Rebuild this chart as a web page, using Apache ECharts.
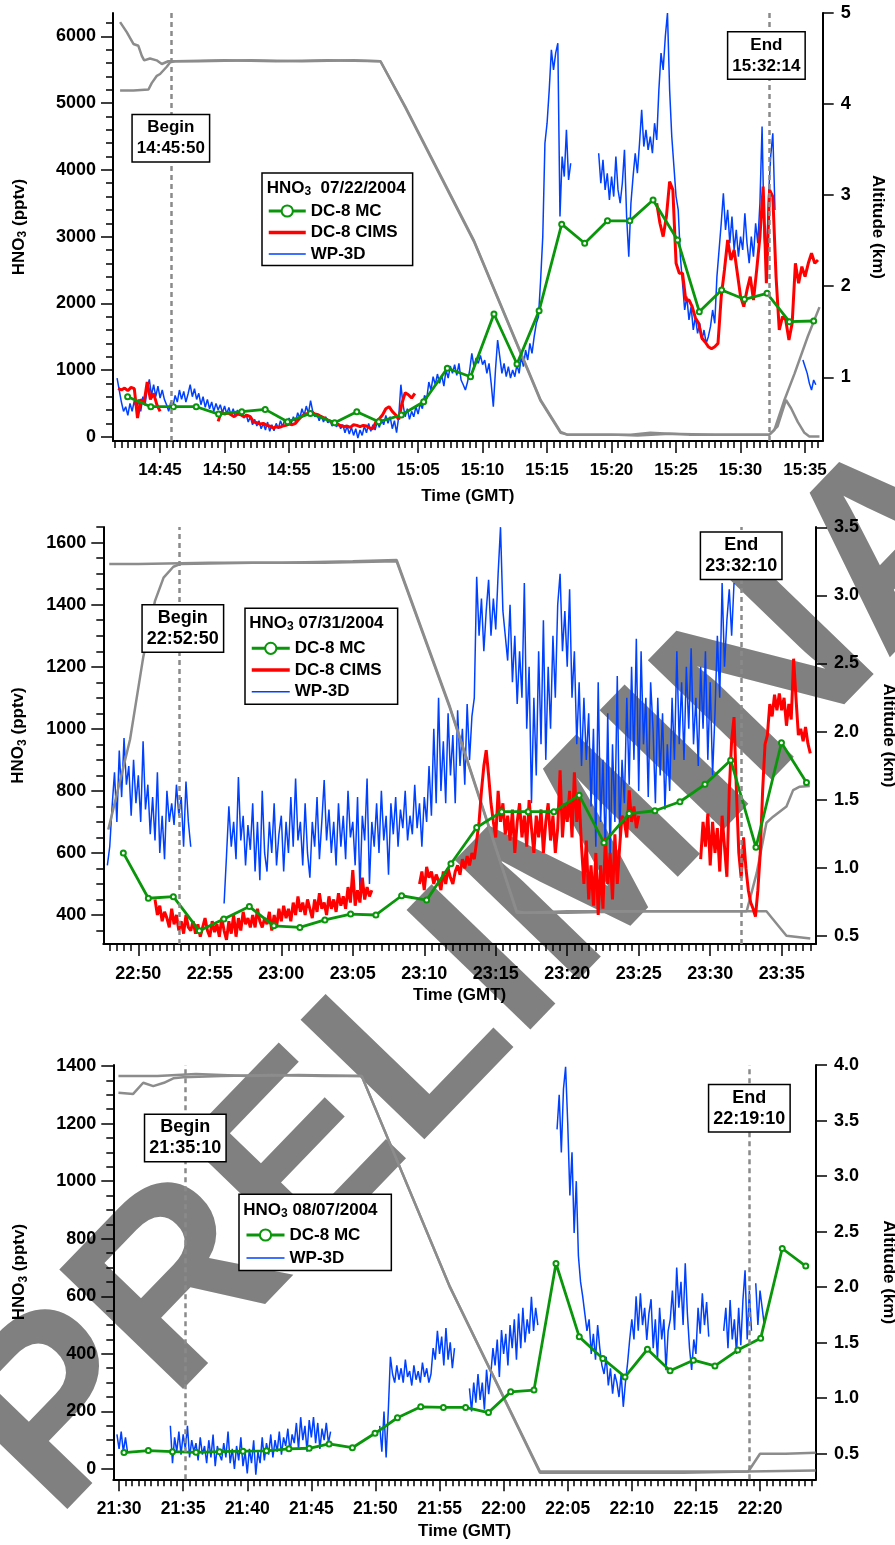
<!DOCTYPE html>
<html>
<head>
<meta charset="utf-8">
<script src="https://cdn.jsdelivr.net/npm/echarts@6/dist/echarts.min.js"></script>
<style>
  html, body { margin: 0; padding: 0; background: #fff; }
  #chart { width: 895px; height: 1545px; }
</style>
</head>
<body>
<div id="chart"></div>
<script>
const _ = null;

// ---------- Flight 1: 07/22/2004 ----------
const p1TimeTicks = ['14:45','14:50','14:55','15:00','15:05','15:10','15:15','15:20','15:25','15:30','15:35'];
const p1HnoTicks = [0, 1000, 2000, 3000, 4000, 5000, 6000];
const p1AltTicks = [1, 2, 3, 4, 5];
const p1Begin = '14:45:50', p1End = '15:32:14';
// WP-3D, 10 s samples from 14:41:00
const p1Wp3d = [
  _,_,_,_,880,700,
  520,380,450,320,500,380,
  540,420,560,380,600,470,
  720,860,620,780,600,760,
  580,700,560,480,380,520,
  450,620,520,700,560,680,
  520,640,780,600,720,560,
  650,480,600,440,560,420,
  520,380,500,400,480,360,
  460,340,440,320,420,300,
  400,320,380,280,340,220,
  300,180,260,160,240,120,
  200,100,220,80,180,90,
  200,120,240,150,260,170,
  280,200,300,220,360,280,
  420,320,460,350,540,380,
  300,340,240,320,220,300,
  210,240,160,220,150,200,
  120,180,60,160,40,140,
  20,120,-20,100,20,160,
  60,200,80,180,100,220,
  140,260,180,320,200,300,
  120,240,60,300,780,480,
  300,420,260,380,300,450,
  340,500,420,620,560,820,
  700,900,780,940,800,920,
  760,1000,880,1060,950,1080,
  920,1100,850,780,700,820,
  1000,1250,1050,1180,1100,1220,
  1080,1150,950,1100,800,450,
  1000,1450,1200,950,1100,900,
  1050,880,1000,900,1080,950,
  1200,1050,1300,1150,1400,1250,
  1500,1700,1800,2350,3000,4400,
  4700,5200,5800,5500,5750,5900,
  3300,4200,3900,4600,3850,4100,
  _,_,_,_,_,_,
  _,_,_,_,_,_,
  4250,3800,4150,3700,3950,3550,
  3900,3600,4200,3700,3500,3800,
  4300,3300,2700,3500,3900,4250,
  3950,4400,4900,4350,4600,4300,
  4500,4250,4700,4450,5200,5750,
  5500,6000,6350,5200,4500,4050,
  3600,3400,2700,2300,1900,2100,
  1750,1950,1600,1800,1550,1700,
  1450,1600,1400,1500,1650,1900,
  1700,2400,2800,3200,3650,3100,
  3400,2900,3300,2800,3100,2700,
  3000,2800,3350,2900,2600,3000,
  2700,3200,2900,3500,4650,3000,
  2500,3600,4200,4550,3400,_,
  _,_,_,_,_,_,
  _,_,_,_,_,1150,
  1050,950,800,700,850,780
];
// DC-8 CIMS, 15 s samples, three stretches
const p1CimsA = [725, 700,730,690,740, 720,280,560,500, 820,560,650,480, 380];           // from 14:41:45
const p1CimsB = [230,375, 340,360,330,300, 340,330,300,320, 300,220,210,190, 200,170,160,130,
  150,140,160,170, 190,180,200,260, 310,340,350,370, 340,330,300,280, 250,230,200,180,
  170,150,160,140, 180,170,150,170, 160,130,120,230, 270,330,420,450, 380,330,260,500,
  660,630,580,650];                                                                         // from 14:49:30
const p1CimsC = [3500,3200, 3000,3300,3825,3700, 2600,2450,2450,2050, 2050,1950,1780,1700,
  1480,1420,1350,1320, 1350,1400,2100,2500, 2950,2650,2800,2450, 2100,1950,2200,2400,
  2050,2500,3000,3750, 2300,3700,3600,2400, 1600,1800,1750,1450, 1700,2600,2300,2550,
  2400,2600,2750,2600, 2650];                                                               // from 15:23:30
// DC-8 mist chamber
const p1Mc = [['14:42:29',600],['14:44:17',450],['14:46:02',450],['14:47:48',450],['14:49:32',340],
  ['14:51:20',375],['14:53:09',410],['14:54:53',225],['14:56:39',350],['14:58:32',210],['15:00:15',375],
  ['15:01:57',225],['15:03:42',325],['15:05:26',525],['15:07:16',1026],['15:09:04',900],['15:10:53',1840],
  ['15:12:40',1090],['15:14:23',1890],['15:16:08',3186],['15:17:55',2900],['15:19:41',3236],['15:21:25',3236],
  ['15:23:13',3550],['15:25:07',2950],['15:26:48',1875],['15:28:32',2200],['15:30:18',2060],['15:32:03',2150],
  ['15:33:47',1725],['15:35:40',1735]];
// altitudes (km)
const p1AltDc8 = [['14:41:54',4.90],['14:42:25',4.79],['14:42:56',4.66],['14:43:19',4.64],['14:43:35',4.53],
  ['14:43:46',4.48],['14:44:13',4.50],['14:44:44',4.48],['14:45:08',4.44],['14:45:38',4.47],['14:48:00',4.47],
  ['14:52:00',4.48],['14:56:00',4.47],['15:00:00',4.48],['15:02:05',4.47],['15:04:01',3.97],['15:09:20',2.50],
  ['15:14:30',0.75],['15:16:03',0.40],['15:16:34',0.37],['15:20:00',0.37],['15:22:00',0.36],['15:24:30',0.38],
  ['15:28:00',0.37],['15:32:14',0.37],['15:32:37',0.42],['15:33:24',0.75],['15:34:11',1.04],['15:35:13',1.45],
  ['15:36:07',1.77]];
const p1AltP3 = [['14:41:54',4.15],['14:42:56',4.15],['14:44:06',4.16],['14:44:21',4.23],['14:44:45',4.31],
  ['14:45:00',4.33],['14:45:31',4.41],['14:45:47',4.46],['14:46:10',4.47],['14:50:00',4.48],['14:54:00',4.47],
  ['14:58:00',4.48],['15:02:05',4.47],['15:04:01',3.96],['15:09:20',2.49],['15:14:30',0.74],['15:16:03',0.39],
  ['15:16:34',0.37],['15:19:00',0.37],['15:21:30',0.37],['15:23:00',0.39],['15:26:00',0.37],['15:30:00',0.37],
  ['15:32:14',0.37],['15:32:52',0.46],['15:33:31',0.75],['15:33:55',0.66],['15:34:26',0.51],['15:34:57',0.39],
  ['15:35:20',0.35],['15:36:07',0.35]];

// ---------- Flight 2: 07/31/2004 ----------
const p2TimeTicks = ['22:50','22:55','23:00','23:05','23:10','23:15','23:20','23:25','23:30','23:35'];
const p2HnoTicks = [400, 600, 800, 1000, 1200, 1400, 1600];
const p2AltTicks = [0.5, 1.0, 1.5, 2.0, 2.5, 3.0, 3.5];
const p2Begin = '22:52:50', p2End = '23:32:10';
// WP-3D, 10 s samples from 22:47:00
const p2Wp3d = [
  _,_,_,_,_,560,
  620,750,860,700,930,780,
  970,820,880,720,900,760,
  850,700,960,740,820,660,
  780,640,860,600,720,580,
  800,700,760,690,820,720,
  780,620,830,700,620,_,
  _,_,_,_,_,_,
  _,_,_,_,_,_,
  437,590,750,620,700,580,
  845,640,720,560,690,610,
  760,540,700,512,800,600,
  540,700,600,760,560,660,
  720,540,700,600,780,620,
  840,640,700,560,760,600,
  520,700,620,780,580,700,
  835,640,740,600,700,560,
  760,620,720,580,800,650,
  700,560,780,480,720,640,
  840,500,700,620,760,600,
  800,640,720,530,760,660,
  780,620,740,680,800,640,
  720,660,820,680,760,620,
  780,700,880,720,1000,760,
  1100,800,960,760,1050,850,
  980,760,1060,880,1000,820,
  1080,900,1040,1100,1490,1300,
  1420,1250,1380,1480,1300,1420,
  1320,1500,1650,1380,1300,1220,
  1400,1150,1300,1080,1250,1100,
  1470,1000,1200,760,1100,850,
  1250,950,1350,900,1200,1000,
  1300,1100,1400,1500,1250,1380,
  1200,1450,1100,1250,950,1150,
  880,1100,900,1050,750,1000,
  620,1150,700,900,600,1050,
  580,950,700,1170,650,900,
  760,1100,820,1200,900,1290,
  800,1250,950,1100,780,1150,
  1000,760,1100,850,1050,740,
  950,800,1100,900,1250,950,
  1150,900,1200,1000,1260,950,
  1100,880,1200,1000,1250,900,
  1150,850,1050,1300,1100,1470,
  1200,1350,1450,1300,1470
];
// DC-8 CIMS, 10 s samples, three stretches
const p2CimsA = [450,400,430,380,410,
  390,360,420,370,400,350, 380,340,400,360,350,380, 340,370,330,360,390,350,
  330,380,345,370,330,390, 350,320,380,340,400,330, 390,350,410,370,390,360,
  400,360,420,380,360,390, 370,410,350,400,360,420, 380,430,390,420,380,440,
  400,460,410,440,400,450, 420,390,450,410,470,420, 440,400,460,420,450,410,
  470,430,460,420,490,440, 545,430,480,440,520,450, 490,460,480];                    // from 22:51:10
const p2CimsB = [500,540,
  480,555,520,540,500,530, 510,480,540,500,550,520, 500,540,560,530,580,550,
  590,560,600,580,640,700, 800,880,931,850,760,700, 650,800,700,760,660,720,
  640,740,600,700,760,650, 720,620,770,680,600,720, 650,740,600,700,760,640,
  720,600,680,866,650,760, 700,800,650,860,700,780, 620,500,640,450,560,430,
  600,400,560,420,650,500, 600,450,660,500,620,720, 700,650,802,700,750,680,
  720];                                                                                // from 23:09:40
const p2CimsC = [580,700,620,727,
  560,700,600,680,540,720, 620,523,800,963,1038,800, 600,520,650,550,480,440,
  420,395,480,600,800,950, 980,1080,1040,1110,1060,1114, 1060,1100,1010,1080,1030,1226,
  1100,980,1000,960,1006,953, 921];                                                    // from 23:29:20
const p2Mc = [['22:48:57',600],['22:50:42',454],['22:52:27',459],['22:54:16',349],['22:55:59',387],
  ['22:57:46',427],['22:59:29',365],['23:01:18',360],['23:03:03',384],['23:04:51',403],['23:06:37',400],
  ['23:08:25',462],['23:10:10',448],['23:11:52',565],['23:13:40',682],['23:15:25',733],['23:17:16',733],
  ['23:19:04',733],['23:20:50',786],['23:22:34',633],['23:24:20',727],['23:26:08',736],['23:27:53',765],
  ['23:29:38',821],['23:31:26',899],['23:33:12',618],['23:34:59',955],['23:36:44',827]];
const p2AltDc8 = [['22:47:58',3.23],['22:50:00',3.23],['22:55:00',3.24],['23:00:00',3.24],['23:05:00',3.25],
  ['23:08:04',3.26],['23:11:48',2.18],['23:16:28',0.68],['23:17:00',0.67],['23:20:00',0.68],['23:25:00',0.68],
  ['23:30:00',0.68],['23:33:56',0.68],['23:35:20',0.50],['23:37:00',0.48]];
const p2AltP3 = [['22:47:54',1.28],['22:49:25',1.94],['22:50:21',2.55],['22:51:10',2.96],['22:51:46',3.13],
  ['22:52:27',3.21],['22:52:55',3.23],['22:58:00',3.24],['23:03:00',3.24],['23:08:04',3.25],['23:11:48',2.17],
  ['23:16:28',0.67],['23:20:00',0.67],['23:25:00',0.68],['23:30:00',0.68],['23:32:33',0.68],['23:33:15',0.96],
  ['23:33:56',1.33],['23:34:24',1.375],['23:35:20',1.45],['23:35:48',1.57],['23:36:16',1.595],['23:36:58',1.60]];

// ---------- Flight 3: 08/07/2004 ----------
const p3TimeTicks = ['21:30','21:35','21:40','21:45','21:50','21:55','22:00','22:05','22:10','22:15','22:20'];
const p3HnoTicks = [0, 200, 400, 600, 800, 1000, 1200, 1400];
const p3AltTicks = [0.5, 1.0, 1.5, 2.0, 2.5, 3.0, 3.5, 4.0];
const p3Begin = '21:35:10', p3End = '22:19:10';
// WP-3D, 10 s samples from 21:29:00
const p3Wp3d = [
  _,_,_,_,_,120,
  70,130,60,110,55,_,
  _,_,_,_,_,_,
  _,_,_,_,_,_,
  _,_,_,_,_,_,
  150,20,110,60,130,50,
  120,70,150,40,100,60,
  90,30,110,50,80,20,
  100,40,120,10,80,50,
  30,90,40,130,20,70,
  0,80,30,110,10,60,
  -15,70,20,100,-20,60,
  20,110,30,90,50,120,
  40,100,60,130,50,110,
  80,140,60,120,90,160,
  70,180,100,150,60,170,
  110,180,90,160,70,140,
  100,160,90,130,_,_,
  _,_,_,_,_,_,
  _,_,_,_,_,_,
  _,_,_,_,_,_,
  _,_,150,60,200,40,
  200,390,330,300,360,310,
  350,300,380,320,340,290,
  360,310,340,300,370,320,
  350,300,330,420,380,480,
  400,460,360,490,380,440,
  350,420,_,_,_,_,
  _,_,280,200,300,230,
  330,240,300,206,345,260,
  330,420,360,450,320,483,
  400,470,360,500,420,520,
  380,540,420,560,440,520,
  470,598,480,560,500,_,
  _,_,_,_,_,_,
  _,1180,1300,1100,1320,1397,
  1200,950,1100,820,1000,740,
  650,600,540,480,520,400,
  470,380,500,420,360,330,
  390,290,350,262,330,300,
  250,330,216,300,367,450,
  520,450,600,480,610,500,
  560,448,540,590,420,520,
  380,560,450,520,343,480,
  520,620,483,700,560,650,
  500,715,540,420,344,450,
  400,560,470,610,500,580,
  460,_,_,_,_,_,
  _,480,560,420,587,450,
  520,400,560,430,587,690,
  450,620,480,_,645,500,
  620,560,500
];
const p3Mc = [['21:30:23',57],['21:32:17',64],['21:34:10',60],['21:36:00',58],['21:37:50',60],['21:39:40',62],
  ['21:41:30',63],['21:43:15',70],['21:44:50',72],['21:46:23',87],['21:48:12',74],['21:49:58',124],
  ['21:51:43',178],['21:53:32',216],['21:55:18',214],['21:57:02',214],['21:58:49',196],['22:00:33',268],
  ['22:02:22',274],['22:04:05',714],['22:05:54',459],['22:07:44',384],['22:09:28',320],['22:11:13',416],
  ['22:12:59',341],['22:14:48',378],['22:16:29',358],['22:18:16',413],['22:20:03',454],['22:21:44',766],
  ['22:23:34',705]];
const p3AltDc8 = [['21:29:57',3.90],['21:33:00',3.90],['21:36:00',3.92],['21:40:00',3.90],['21:44:00',3.91],
  ['21:48:56',3.90],['21:55:49',2.00],['22:02:50',0.34],['22:10:00',0.34],['22:19:05',0.34],['22:24:20',0.35]];
const p3AltP3 = [['21:29:57',3.75],['21:31:06',3.74],['21:31:53',3.84],['21:32:40',3.81],['21:33:30',3.84],
  ['21:34:14',3.88],['21:35:00',3.89],['21:38:00',3.90],['21:42:00',3.91],['21:46:00',3.90],['21:48:56',3.90],
  ['21:55:49',2.00],['22:02:50',0.33],['22:08:00',0.33],['22:14:00',0.33],['22:19:05',0.34],['22:20:00',0.50],
  ['22:22:00',0.50],['22:24:20',0.51]];

// ---------- helpers ----------
const FONT = '"Liberation Sans", Arial, Helvetica, sans-serif';
const C_BLUE = '#0040ff', C_RED = '#ff0000', C_GREEN = '#0a960a', C_GRAY = '#8c8c8c';

function sec(s) { const p = s.split(':').map(Number); return p[0] * 3600 + p[1] * 60 + (p[2] || 0); }
function hhmm(v) {
  const m = Math.round(v / 60);
  return String(Math.floor(m / 60)).padStart(2, '0') + ':' + String(m % 60).padStart(2, '0');
}
function sampled(start, step, vals) {
  const t0 = sec(start);
  return vals.map((v, i) => [t0 + i * step, v == null ? '-' : v]);
}
function joined(...parts) {
  const out = [];
  parts.forEach((p, i) => {
    if (i > 0) out.push([(out[out.length - 1][0] + p[0][0]) / 2, '-']);
    out.push(...p);
  });
  return out;
}
function stamped(list) { return list.map(([t, v]) => [sec(t), v]); }
function steps(a, b, st) {
  const r = [];
  for (let v = Math.ceil(a / st - 1e-9) * st; v <= b + 1e-9; v += st) r.push(+v.toFixed(6));
  return r;
}
// legend entries: plain lines keep only their stroke, the mist chamber keeps its circle
const legendLook = {
  'DC-8 MC': { lineStyle: { width: 3 } },
  'DC-8 CIMS': { itemStyle: { opacity: 0 }, lineStyle: { width: 3.5 } },
  'WP-3D': { itemStyle: { opacity: 0 }, lineStyle: { width: 1.5 } }
};
function legendItems(names) { return names.map(n => Object.assign({ name: n }, legendLook[n])); }

const panels = [
  {
    box: { left: 113, top: 13, width: 709.7, height: 428 },
    xRange: ['14:41:21', '15:36:22'], timeTicks: p1TimeTicks,
    hnoRange: [-64, 6352], hnoTicks: p1HnoTicks, hnoMinor: 200,
    altRange: [0.30, 5.0], altTicks: p1AltTicks, altDigits: 0,
    xFont: 17, yFont: 18, gaps: { x: 47, left: 84, right: 46 },
    wp3d: sampled('14:41:00', 10, p1Wp3d),
    cims: joined(sampled('14:41:45', 15, p1CimsA), sampled('14:49:30', 15, p1CimsB), sampled('15:23:30', 15, p1CimsC)),
    mc: stamped(p1Mc), altA: stamped(p1AltDc8), altB: stamped(p1AltP3),
    begin: p1Begin, end: p1End, beginY: 4476, endY: 5715, beginDx: 0, endDx: -3, boxFont: 17,
    legendTitle: '{a|HNO}{s|3}{a|  07/22/2004}', titlePos: { left: 266.7, top: 178 },
    legend: { left: 262, top: 173, padding: [29.5, 15, 3, 5], itemGap: 4.5, itemWidth: 37,
      data: legendItems(['DC-8 MC', 'DC-8 CIMS', 'WP-3D']) }
  },
  {
    box: { left: 103.3, top: 527, width: 712.7, height: 417 },
    xRange: ['22:47:33', '23:37:24'], timeTicks: p2TimeTicks,
    hnoRange: [306.5, 1650.5], hnoTicks: p2HnoTicks, hnoMinor: 50,
    altRange: [0.44, 3.502], altTicks: p2AltTicks, altDigits: 1,
    xFont: 18, yFont: 18, gaps: { x: 43, left: 75, right: 64 },
    wp3d: sampled('22:47:00', 10, p2Wp3d),
    cims: joined(sampled('22:51:10', 10, p2CimsA), sampled('23:09:40', 10, p2CimsB), sampled('23:29:20', 10, p2CimsC)),
    mc: stamped(p2Mc), altA: stamped(p2AltDc8), altB: stamped(p2AltP3),
    begin: p2Begin, end: p2End, beginY: 1323, endY: 1558, beginDx: 4, endDx: 0, boxFont: 18,
    legendTitle: '{a|HNO}{s|3}{a| 07/31/2004}', titlePos: { left: 249.3, top: 613 },
    legend: { left: 245, top: 608.3, padding: [31.5, 16, 4, 5], itemGap: 4.7, itemWidth: 38,
      data: legendItems(['DC-8 MC', 'DC-8 CIMS', 'WP-3D']) }
  },
  {
    box: { left: 113.3, top: 1065, width: 702.7, height: 414.3 },
    xRange: ['21:29:33', '22:24:22'], timeTicks: p3TimeTicks,
    hnoRange: [-35.8, 1403.5], hnoTicks: p3HnoTicks, hnoMinor: 50,
    altRange: [0.27, 4.0], altTicks: p3AltTicks, altDigits: 1,
    xFont: 17.5, yFont: 18, gaps: { x: 44, left: 84, right: 64 },
    wp3d: sampled('21:29:00', 10, p3Wp3d),
    cims: null,
    mc: stamped(p3Mc), altA: stamped(p3AltDc8), altB: stamped(p3AltP3),
    begin: p3Begin, end: p3End, beginY: 1150, endY: 1253, beginDx: 0, endDx: 0, boxFont: 18,
    legendTitle: '{a|HNO}{s|3}{a| 08/07/2004}', titlePos: { left: 243.3, top: 1200 },
    legend: { left: 239, top: 1194.3, padding: [32.2, 31, 4, 6], itemGap: 6, itemWidth: 38,
      data: legendItems(['DC-8 MC', 'WP-3D']) }
  }
];

const boldText = (size) => ({ fontSize: size, fontWeight: 'bold', fontFamily: FONT, color: '#000' });

const option = {
  animation: false,
  backgroundColor: '#fff',
  textStyle: { fontFamily: FONT },
  grid: [], xAxis: [], yAxis: [], series: [], legend: [], title: [],
  graphic: [{
    type: 'text', silent: true, z: -10,
    x: 96, y: 1560, rotation: 46 * Math.PI / 180,
    style: { text: 'PRELIMINARY', fontSize: 250, fontWeight: 'bold', fontFamily: FONT,
      fill: '#808080', align: 'left', verticalAlign: 'bottom' }
  }]
};

panels.forEach((p, i) => {
  const xMin = sec(p.xRange[0]), xMax = sec(p.xRange[1]);
  const majorX = p.timeTicks.map(s => sec(s));
  const minorX = steps(xMin, xMax, 30);
  const minorY = steps(p.hnoRange[0], p.hnoRange[1], p.hnoMinor);
  const lineBlack = { show: true, onZero: false, lineStyle: { color: '#000', width: 2 } };
  const tickBlack = (len, vals) => ({ show: true, length: len, customValues: vals, lineStyle: { color: '#000', width: 1.5 } });

  option.grid.push(Object.assign({ outerBoundsMode: 'none', containLabel: false }, p.box));

  option.xAxis.push({
    type: 'value', gridIndex: i, position: 'bottom', min: xMin, max: xMax,
    axisLine: lineBlack, axisTick: tickBlack(12, majorX),
    axisLabel: Object.assign({ customValues: majorX, formatter: hhmm, margin: 21 }, boldText(p.xFont)),
    splitLine: { show: false },
    name: 'Time (GMT)', nameLocation: 'middle', nameGap: p.gaps.x, nameMoveOverlap: false,
    nameTextStyle: boldText(17)
  }, {
    type: 'value', gridIndex: i, position: 'bottom', min: xMin, max: xMax,
    axisLine: { show: false, onZero: false }, axisTick: tickBlack(7, minorX),
    axisLabel: { show: false }, splitLine: { show: false }
  });

  option.yAxis.push({
    type: 'value', gridIndex: i, position: 'left', min: p.hnoRange[0], max: p.hnoRange[1],
    axisLine: lineBlack, axisTick: tickBlack(12, p.hnoTicks),
    axisLabel: Object.assign({ customValues: p.hnoTicks, margin: 17, formatter: v => String(v) }, boldText(p.yFont)),
    splitLine: { show: false },
    name: '{a|HNO}{s|3}{a| (pptv)}', nameLocation: 'middle', nameRotate: 90, nameGap: p.gaps.left,
    nameMoveOverlap: false,
    nameTextStyle: { rich: {
      a: Object.assign({ lineHeight: 20 }, boldText(17)),
      s: Object.assign({ lineHeight: 20, verticalAlign: 'bottom' }, boldText(12)) } }
  }, {
    type: 'value', gridIndex: i, position: 'left', min: p.hnoRange[0], max: p.hnoRange[1],
    axisLine: { show: false, onZero: false }, axisTick: tickBlack(7, minorY),
    axisLabel: { show: false }, splitLine: { show: false }
  }, {
    type: 'value', gridIndex: i, position: 'right', min: p.altRange[0], max: p.altRange[1],
    axisLine: lineBlack, axisTick: tickBlack(11, p.altTicks),
    axisLabel: Object.assign({ customValues: p.altTicks, margin: 18,
      formatter: v => v.toFixed(p.altDigits) }, boldText(p.yFont)),
    splitLine: { show: false },
    name: 'Altitude (km)', nameLocation: 'middle', nameRotate: -90, nameGap: p.gaps.right,
    nameMoveOverlap: false, nameTextStyle: boldText(17)
  });

  const xi = 2 * i, yl = 3 * i, yr = 3 * i + 2;
  const base = { type: 'line', xAxisIndex: xi, symbol: 'none', showSymbol: false, connectNulls: false, silent: true };

  option.series.push(Object.assign({}, base, {
    name: 'WP-3D', yAxisIndex: yl, data: p.wp3d, z: 2,
    color: C_BLUE, lineStyle: { color: C_BLUE, width: 1.5 }
  }));
  option.series.push(Object.assign({}, base, {
    name: 'WP-3D altitude', yAxisIndex: yr, data: p.altB, z: 2,
    color: C_GRAY, lineStyle: { color: C_GRAY, width: 2.5 }
  }));
  option.series.push(Object.assign({}, base, {
    name: 'DC-8 altitude', yAxisIndex: yr, data: p.altA, z: 2,
    color: C_GRAY, lineStyle: { color: C_GRAY, width: 2.5 },
    markLine: {
      silent: true, symbol: ['none', 'none'], label: { show: false }, animation: false,
      lineStyle: { color: '#8a8a8a', type: [5, 4], width: 2.5 },
      data: [{ xAxis: sec(p.begin) }, { xAxis: sec(p.end) }]
    }
  }));
  if (p.cims) {
    option.series.push(Object.assign({}, base, {
      name: 'DC-8 CIMS', yAxisIndex: yl, data: p.cims, z: 3,
      color: C_RED, lineStyle: { color: C_RED, width: 3 }
    }));
  }
  option.series.push(Object.assign({}, base, {
    name: 'DC-8 MC', yAxisIndex: yl, data: p.mc, z: 4,
    showSymbol: true, symbol: 'emptyCircle', symbolSize: 5,
    color: C_GREEN, itemStyle: { color: C_GREEN, borderWidth: 1 },
    lineStyle: { color: C_GREEN, width: 2.8 },
    markPoint: {
      silent: true, z: 10, symbol: 'rect', symbolSize: 1, itemStyle: { color: 'rgba(0,0,0,0)' },
      label: Object.assign({ show: true, position: 'inside', formatter: '{b}', lineHeight: 21,
        backgroundColor: '#fff', borderColor: '#000', borderWidth: 1.5, padding: [2, 4, 2, 4],
        align: 'center' }, boldText(p.boxFont)),
      data: [
        { name: 'Begin\n' + p.begin, coord: [sec(p.begin), p.beginY], label: { offset: [p.beginDx, 0] } },
        { name: 'End\n' + p.end, coord: [sec(p.end), p.endY], label: { offset: [p.endDx, 0] } }
      ]
    }
  }));

  option.legend.push(Object.assign({
    orient: 'vertical', selectedMode: false, itemHeight: 14, z: 8,
    backgroundColor: '#fff', borderColor: '#000', borderWidth: 1.5, borderRadius: 0,
    textStyle: boldText(17)
  }, p.legend));

  option.title.push({
    text: p.legendTitle, left: p.titlePos.left, top: p.titlePos.top, padding: 0, z: 9,
    textStyle: { rich: {
      a: Object.assign({ lineHeight: 20 }, boldText(17)),
      s: Object.assign({ lineHeight: 20, verticalAlign: 'bottom' }, boldText(12)) } }
  });
});

const chart = echarts.init(document.getElementById('chart'), null, { renderer: 'canvas' });
chart.setOption(option);
</script>
</body>
</html>
